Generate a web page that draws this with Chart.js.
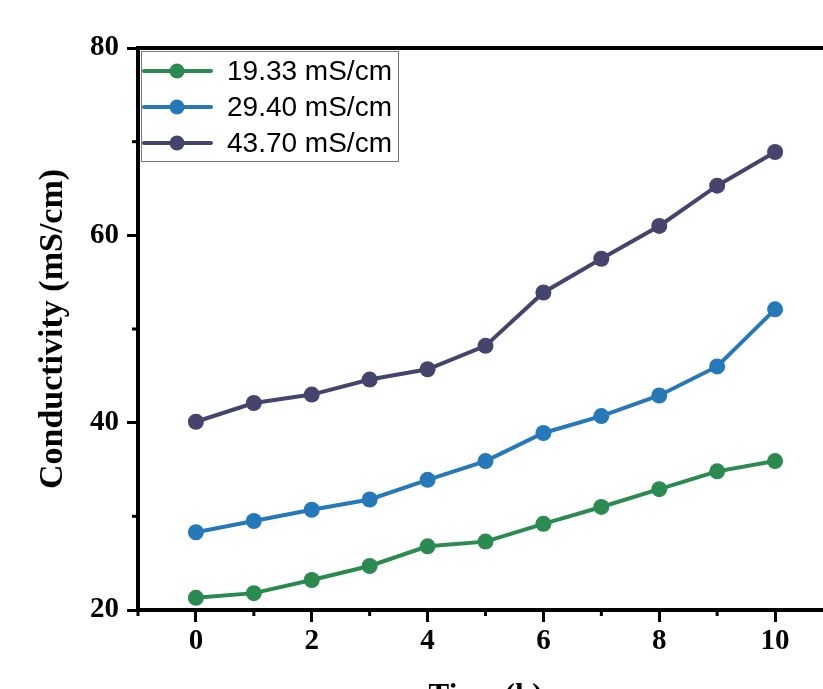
<!DOCTYPE html>
<html>
<head>
<meta charset="utf-8">
<script src="https://cdn.jsdelivr.net/npm/chart.js@4.4.1/dist/chart.umd.min.js"></script>
<style>
  html, body { margin: 0; padding: 0; background: #fff; overflow: hidden; }
  #wrap { position: relative; width: 823px; height: 689px; overflow: hidden; }
  canvas#cond { position: absolute; left: 0; top: 0; }
</style>
</head>
<body>
<div id="wrap"><canvas id="cond" width="860" height="720"></canvas></div>
<script>
const hours = [0, 1, 2, 3, 4, 5, 6, 7, 8, 9, 10];
const seriesLabels = ['19.33 mS/cm', '29.40 mS/cm', '43.70 mS/cm'];
const low = [21.3, 21.8, 23.2, 24.7, 26.8, 27.3, 29.2, 31.0, 32.9, 34.8, 35.9];
const mid = [28.3, 29.5, 30.7, 31.8, 33.9, 35.9, 38.9, 40.7, 42.9, 46.0, 52.1];
const high = [40.1, 42.1, 43.0, 44.6, 45.7, 48.2, 53.9, 57.5, 61.0, 65.3, 68.9];
const colors = ['#2a8a50', '#2679b8', '#44446c'];

const xMinorTicks = [-1, 1, 3, 5, 7, 9, 11];
const yMinorTicks = [30, 50, 70];

const canvas = document.querySelector('canvas#cond');
const ctx = canvas.getContext('2d');

const serif = "'Liberation Serif', 'Times New Roman', serif";

function toPoints(values) {
  return values.map((v, i) => ({ x: hours[i], y: v }));
}

// short minor ticks, the library only does one tick length per axis
const minorTicks = {
  id: 'minorTicks',
  afterDraw(chart) {
    const { ctx, chartArea, scales } = chart;
    ctx.save();
    ctx.strokeStyle = '#000';
    ctx.lineWidth = 3;
    xMinorTicks.forEach((v) => {
      const px = scales.x.getPixelForValue(v);
      ctx.beginPath();
      ctx.moveTo(px, chartArea.bottom);
      ctx.lineTo(px, chartArea.bottom + 6);
      ctx.stroke();
    });
    yMinorTicks.forEach((v) => {
      const py = scales.y.getPixelForValue(v);
      ctx.beginPath();
      ctx.moveTo(chartArea.left, py);
      ctx.lineTo(chartArea.left - 6, py);
      ctx.stroke();
    });
    ctx.restore();
  }
};

// boxed legend in the top left corner of the plot
const boxLegend = {
  id: 'boxLegend',
  afterDatasetsDraw(chart) {
    const { ctx, chartArea } = chart;
    const left = chartArea.left + 3;
    const top = chartArea.top + 3;
    const w = 257, h = 110, row = 36;
    ctx.save();
    ctx.fillStyle = '#fff';
    ctx.fillRect(left, top, w, h);
    ctx.strokeStyle = '#777';
    ctx.lineWidth = 1;
    ctx.strokeRect(left + 0.5, top + 0.5, w, h);
    ctx.font = "28px 'Liberation Sans', Arial, sans-serif";
    ctx.textBaseline = 'middle';
    chart.data.datasets.forEach((ds, i) => {
      const cy = top + 20 + i * row;
      ctx.strokeStyle = ds.borderColor;
      ctx.lineWidth = 4;
      ctx.lineCap = 'round';
      ctx.beginPath();
      ctx.moveTo(left + 3, cy);
      ctx.lineTo(left + 70, cy);
      ctx.stroke();
      ctx.fillStyle = ds.borderColor;
      ctx.beginPath();
      ctx.arc(left + 36, cy, 7.5, 0, Math.PI * 2);
      ctx.fill();
      ctx.fillStyle = '#000';
      ctx.fillText(ds.label, left + 86, cy + 1);
    });
    ctx.restore();
  }
};

const datasets = [low, mid, high].map((values, i) => ({
  label: seriesLabels[i],
  data: toPoints(values),
  borderColor: colors[i],
  backgroundColor: colors[i],
  borderWidth: 4,
  pointRadius: 8,
  pointHoverRadius: 8,
  pointBorderWidth: 0,
}));

new Chart(ctx, {
  type: 'line',
  data: { datasets: datasets },
  plugins: [minorTicks, boxLegend],
  options: {
    responsive: false,
    animation: false,
    layout: { padding: { top: 48, right: 27, left: 0, bottom: 0 } },
    plugins: {
      legend: { display: false },
      tooltip: { enabled: false },
    },
    scales: {
      x: {
        type: 'linear',
        position: 'bottom',
        min: -1,
        max: 11,
        afterFit: (s) => { s.height = 110; },
        border: { color: '#000', width: 4 },
        grid: {
          drawOnChartArea: false,
          tickLength: 12,
          tickWidth: 3,
          tickColor: (c) => (c.tick && c.tick.value % 2 === 0 ? '#000' : 'rgba(0,0,0,0)'),
        },
        ticks: {
          stepSize: 1,
          padding: 2,
          color: '#000',
          font: { family: serif, size: 29, weight: 'bold' },
          callback: (v) => (v % 2 === 0 ? v : ''),
        },
        title: {
          display: true,
          text: 'Time (h)',
          color: '#000',
          font: { family: serif, size: 31, weight: 'bold' },
          padding: { top: 10 },
        },
      },
      xTop: {
        type: 'linear',
        position: 'top',
        min: -1,
        max: 11,
        afterFit: (s) => { s.height = 0; },
        border: { color: '#000', width: 4 },
        grid: { display: false },
        ticks: { display: false },
      },
      y: {
        min: 20,
        max: 80,
        afterFit: (s) => { s.width = 138; },
        border: { color: '#000', width: 4 },
        grid: {
          drawOnChartArea: false,
          tickLength: 11,
          tickWidth: 3,
          tickColor: (c) => (c.tick && c.tick.value % 20 === 0 ? '#000' : 'rgba(0,0,0,0)'),
        },
        ticks: {
          stepSize: 10,
          padding: 8,
          color: '#000',
          font: { family: serif, size: 29, weight: 'bold' },
          callback: (v) => (v % 20 === 0 ? v : ''),
        },
        title: {
          display: true,
          text: 'Conductivity (mS/cm)',
          color: '#000',
          font: { family: serif, size: 34, weight: 'bold' },
          padding: { top: 33, bottom: 0 },
        },
      },
      yRight: {
        position: 'right',
        min: 20,
        max: 80,
        afterFit: (s) => { s.width = 0; },
        border: { color: '#000', width: 4 },
        grid: { display: false },
        ticks: { display: false },
      },
    },
  },
});
</script>
</body>
</html>
